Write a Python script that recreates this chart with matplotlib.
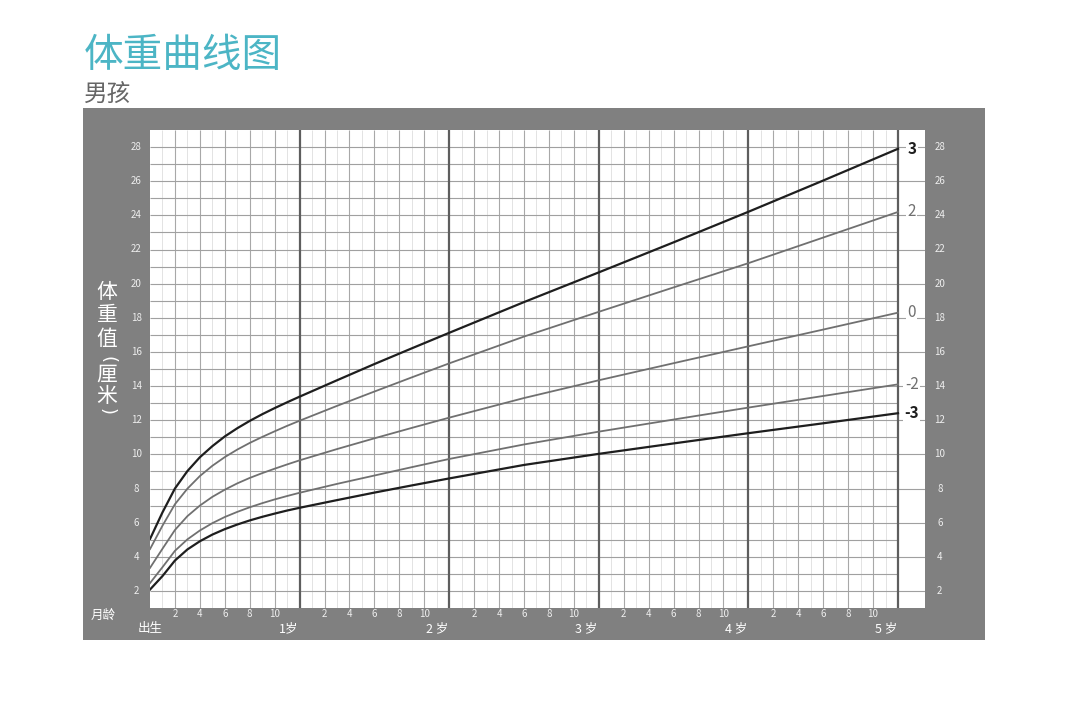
import numpy as np
import matplotlib
matplotlib.use("Agg")
import matplotlib.pyplot as plt
from matplotlib.patches import Rectangle

plt.rcParams['font.family'] = ['Noto Sans CJK SC', 'DejaVu Sans']

# --- Daten (Kurven Jungen) ---
months = [0, 1, 2, 3, 4, 5, 6, 7, 8, 9, 10, 11, 12, 15, 18, 21, 24, 30, 36, 42, 48, 54, 60]
z_m3 = [2.08, 2.87, 3.78, 4.43, 4.91, 5.30, 5.62, 5.89, 6.13, 6.34, 6.53, 6.71, 6.87, 7.32, 7.76,
        8.18, 8.59, 9.38, 10.03, 10.64, 11.24, 11.82, 12.41]
z_m2 = [2.46, 3.39, 4.35, 5.02, 5.54, 5.97, 6.33, 6.63, 6.90, 7.14, 7.36, 7.56, 7.75, 8.27, 8.76,
        9.25, 9.73, 10.58, 11.33, 12.04, 12.74, 13.42, 14.10]
z_0 = [3.35, 4.47, 5.57, 6.38, 7.00, 7.51, 7.93, 8.30, 8.62, 8.90, 9.16, 9.41, 9.65, 10.31, 10.94,
       11.55, 12.15, 13.30, 14.34, 15.34, 16.33, 17.31, 18.30]
z_p2 = [4.45, 5.82, 7.08, 7.99, 8.73, 9.33, 9.84, 10.28, 10.67, 11.02, 11.35, 11.67, 11.97, 12.84, 13.68,
        14.51, 15.33, 16.90, 18.35, 19.78, 21.20, 22.70, 24.20]
z_p3 = [5.04, 6.60, 8.00, 9.02, 9.83, 10.48, 11.05, 11.53, 11.96, 12.35, 12.71, 13.05, 13.38, 14.34, 15.29,
        16.21, 17.12, 18.92, 20.66, 22.42, 24.21, 26.04, 27.90]

curve_labels = ["3", "2", "0", "-2", "-3"]
curves = [z_p3, z_p2, z_0, z_m2, z_m3]
y_ticks = list(range(2, 29, 2))
month_ticks = [2, 4, 6, 8, 10]
year_labels = ["出生", "1岁", "2 岁", "3 岁", "4 岁", "5 岁"]
ylabel_chars = ["体", "重", "值", "(", "厘", "米", ")"]

W, H = 1080, 702
fig = plt.figure(figsize=(W / 100, H / 100), dpi=100)
fig.patch.set_facecolor("white")

# grauer Rahmen
fig.add_artist(Rectangle((83 / W, 1 - 640 / H), 902 / W, 532 / H, transform=fig.transFigure,
                         facecolor="#808080", edgecolor="none", zorder=-1))

# Titel
fig.text(84 / W, 1 - 56 / H, "体重曲线图", color="#4cb5c5", fontsize=28.5, va="center", ha="left")
fig.text(84 / W, 1 - 95 / H, "男孩", color="#666666", fontsize=17, va="center", ha="left")

ax = fig.add_axes([150 / W, 1 - 608 / H, 775 / W, 478 / H])
ax.set_facecolor("white")
xmax = 775 / 12.467
ax.set_xlim(0, xmax)
ax.set_ylim(1, 29)
ax.set_xticks([])
ax.set_yticks([])
for s in ax.spines.values():
    s.set_visible(False)

# Gitter
for m in range(1, 60):
    if m % 12 == 0:
        continue
    if m % 2 == 0:
        ax.vlines(m, 1, 29, color="#a8a8a8", lw=0.8, zorder=1)
    else:
        ax.vlines(m, 1, 29, color="#dedede", lw=0.6, zorder=1)
for v in range(2, 29):
    if v % 2 == 0:
        ax.hlines(v, 0, xmax, color="#a0a0a0", lw=0.8, zorder=2)
    else:
        ax.hlines(v, 0, 60, color="#a0a0a0", lw=0.8, zorder=2)
for yr in range(1, 6):
    ax.vlines(yr * 12, 1, 29, color="#5e5e5e", lw=1.6, zorder=3)

# Kurven
for lab, c in zip(curve_labels, curves):
    dark = lab in ("3", "-3")
    ax.plot(months, c, color="#1e1e1e" if dark else "#707070", lw=1.6 if dark else 1.3, zorder=4,
            solid_joinstyle="round")
    ax.text(61.1, c[-1], lab, ha="center", va="center", fontsize=11,
            color="#1e1e1e" if dark else "#707070", fontweight="bold" if dark else "normal",
            bbox=dict(facecolor="white", edgecolor="none", pad=1.0), zorder=5)

# Achsenbeschriftungen
for v in y_ticks:
    ax.text(-1.1, v, str(v), ha="center", va="center", fontsize=7, color="#eeeeee", clip_on=False)
    ax.text(63.35, v, str(v), ha="center", va="center", fontsize=7, color="#eeeeee", clip_on=False)
for yr in range(5):
    for m in month_ticks:
        ax.text(yr * 12 + m, 0.62, str(m), ha="center", va="center", fontsize=7, color="#eeeeee",
                clip_on=False)
for i, lab in enumerate(year_labels):
    if i == 0:
        ax.text(0.05, -0.2, lab, ha="center", va="center", fontsize=9, color="white", clip_on=False)
    else:
        ax.text(i * 12 - 0.1, -0.2, lab, ha="right", va="center", fontsize=9, color="white", clip_on=False)
ax.text(-3.8, 0.55, "月龄", ha="center", va="center", fontsize=9, color="white", clip_on=False)

# senkrechte Achsenbeschriftung, Zeichen einzeln gestapelt
y_px = [292, 315, 339, 360, 375, 396, 411]
for ch, yp in zip(ylabel_chars, y_px):
    if ch in "()":
        fig.text(107 / W, 1 - yp / H, ch, ha="center", va="center", fontsize=13, color="white",
                 rotation=-90, family="DejaVu Sans")
    else:
        fig.text(107 / W, 1 - yp / H, ch, ha="center", va="center", fontsize=15, color="white")

fig.savefig("out.png", dpi=100)
